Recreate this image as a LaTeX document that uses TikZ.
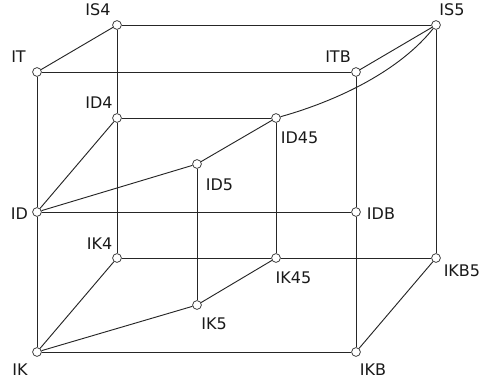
\documentclass[tikz,border=0pt]{standalone}
\usepackage{fontspec}
\setmainfont{DejaVu Sans}
\begin{document}
\begin{tikzpicture}[x=0.75pt,y=-0.75pt,
  vtx/.style={circle,draw=black!75,fill=white,line width=0.6pt,inner sep=0pt,minimum size=6.6pt},
  lbl/.style={inner sep=0pt,font=\fontsize{12pt}{14pt}\selectfont,text=black!90},
  edge/.style={draw=black!85,line width=0.7pt}]
\useasboundingbox (0,0) rectangle (483,385);
% vertices
\node[vtx] (IS4) at (117,25) {};
\node[vtx] (IS5) at (436,25) {};
\node[vtx] (IT) at (37,72) {};
\node[vtx] (ITB) at (356,72) {};
\node[vtx] (ID4) at (117,118) {};
\node[vtx] (ID45) at (276,118) {};
\node[vtx] (ID5) at (197,164) {};
\node[vtx] (ID) at (37,212) {};
\node[vtx] (IDB) at (356,212) {};
\node[vtx] (IK4) at (117,258) {};
\node[vtx] (IK45) at (276,258) {};
\node[vtx] (IKB5) at (436,258) {};
\node[vtx] (IK5) at (197,305) {};
\node[vtx] (IK) at (37,352) {};
\node[vtx] (IKB) at (356,352) {};
% edges
\draw[edge] (IS4) -- (IS5);
\draw[edge] (IS4) -- (IT);
\draw[edge] (IS4) -- (ID4);
\draw[edge] (ID4) -- (IK4);
\draw[edge] (IT) -- (ITB);
\draw[edge] (IT) -- (ID);
\draw[edge] (ID) -- (IK);
\draw[edge] (ITB) -- (IS5);
\draw[edge] (ITB) -- (IDB);
\draw[edge] (IDB) -- (IKB);
\draw[edge] (IS5) -- (IKB5);
\draw[edge] (ID45) .. controls (340,100) and (400,70) .. (IS5);
\draw[edge] (ID4) -- (ID45);
\draw[edge] (ID4) -- (ID);
\draw[edge] (ID) -- (ID5);
\draw[edge] (ID5) -- (ID45);
\draw[edge] (ID) -- (IDB);
\draw[edge] (ID5) -- (IK5);
\draw[edge] (ID45) -- (IK45);
\draw[edge] (IK4) -- (IK45);
\draw[edge] (IK45) -- (IKB5);
\draw[edge] (IK4) -- (IK);
\draw[edge] (IK) -- (IK5);
\draw[edge] (IK5) -- (IK45);
\draw[edge] (IK) -- (IKB);
\draw[edge] (IKB) -- (IKB5);
% labels
\node[lbl] (tIS4) at (98,10) {IS4};
\node[lbl] (tIS5) at (452,10) {IS5};
\node[lbl] (tIT) at (18.5,57) {IT};
\node[lbl] (tITB) at (338,57) {ITB};
\node[lbl] (tID4) at (99,103) {ID4};
\node[lbl] (tID45) at (299.5,137.5) {ID45};
\node[lbl] (tID5) at (219.5,184.5) {ID5};
\node[lbl] (tID) at (19.5,213.5) {ID};
\node[lbl] (tIDB) at (381,213.5) {IDB};
\node[lbl] (tIK4) at (99.5,243.5) {IK4};
\node[lbl] (tIK45) at (293.5,277.5) {IK45};
\node[lbl,anchor=west] (tIKB5) at (443.5,270.5) {IKB5};
\node[lbl] (tIK5) at (214,324) {IK5};
\node[lbl] (tIK) at (20,370) {IK};
\node[lbl] (tIKB) at (373,370) {IKB};
\end{tikzpicture}
\end{document}
